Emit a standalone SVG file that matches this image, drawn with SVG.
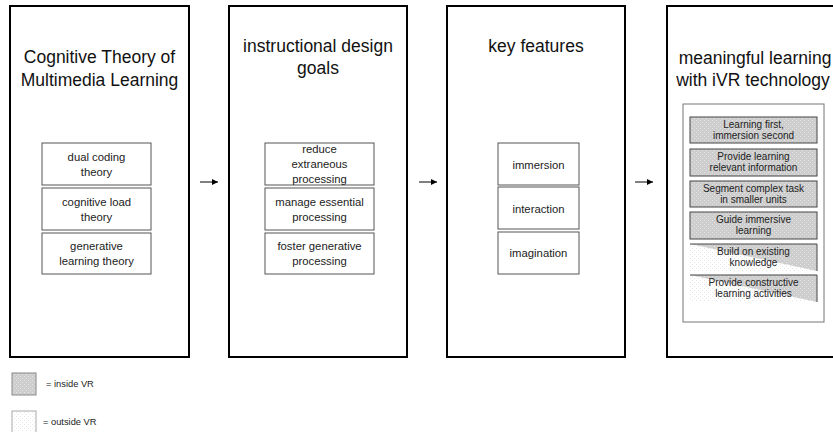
<svg xmlns="http://www.w3.org/2000/svg" width="833" height="432" viewBox="0 0 833 432">
<defs>
<pattern id="pin" width="4" height="4" patternUnits="userSpaceOnUse">
<rect width="4" height="4" fill="#cdcdcd"/>
<rect x="0" y="0" width="1" height="1" fill="#e4e4e4"/>
<rect x="2" y="2" width="1" height="1" fill="#e4e4e4"/>
</pattern>
<pattern id="pout" width="4" height="4" patternUnits="userSpaceOnUse">
<rect width="4" height="4" fill="#ffffff"/>
<rect x="0" y="0" width="1" height="1" fill="#e6e6e6"/>
<rect x="2" y="2" width="1" height="1" fill="#e6e6e6"/>
</pattern>
<marker id="ah" viewBox="0 0 10 10" refX="10" refY="5" markerWidth="6" markerHeight="6" markerUnits="userSpaceOnUse" orient="auto">
<path d="M0,0 L10,5 L0,10 z" fill="#000"/>
</marker>
</defs>
<style>
.col{fill:#fff;stroke:#000;stroke-width:2}
.sub{fill:#fff;stroke:#555;stroke-width:1}
.title{font-family:"Liberation Sans",Arial,sans-serif;font-size:17.5px;fill:#111;text-anchor:middle}
.t{font-family:"Liberation Sans",Arial,sans-serif;font-size:11.3px;fill:#222;text-anchor:middle}
.s{font-family:"Liberation Sans",Arial,sans-serif;font-size:10px;fill:#222;text-anchor:middle}
.leg{font-family:"Liberation Sans",Arial,sans-serif;font-size:9.3px;fill:#222}
.in{fill:url(#pin);stroke:#444;stroke-width:1}
.conn{stroke:#000;stroke-width:1;fill:none}
</style>
<rect width="833" height="432" fill="#fff"/>

<g id="col1">
<rect class="col" x="10" y="6" width="179" height="351"/>
<text class="title" x="99.5" y="63">Cognitive Theory of</text>
<text class="title" x="99.5" y="86">Multimedia Learning</text>
<g id="dual"><rect class="sub" x="42" y="143" width="109" height="42"/>
<text class="t" x="96.5" y="161">dual coding</text><text class="t" x="96.5" y="176">theory</text></g>
<g id="cogload"><rect class="sub" x="42" y="188" width="109" height="42"/>
<text class="t" x="96.5" y="206">cognitive load</text><text class="t" x="96.5" y="221">theory</text></g>
<g id="gen"><rect class="sub" x="42" y="233" width="109" height="41"/>
<text class="t" x="96.5" y="250">generative</text><text class="t" x="96.5" y="265">learning theory</text></g>
</g>

<g id="col2">
<rect class="col" x="229" y="6" width="178" height="351"/>
<text class="title" x="318" y="52">instructional design</text>
<text class="title" x="318" y="74">goals</text>
<g id="reduce"><rect class="sub" x="265" y="143" width="109" height="42"/>
<text class="t" x="319.5" y="153">reduce</text><text class="t" x="319.5" y="168">extraneous</text><text class="t" x="319.5" y="183">processing</text></g>
<g id="manage"><rect class="sub" x="265" y="188" width="109" height="42"/>
<text class="t" x="319.5" y="206">manage essential</text><text class="t" x="319.5" y="221">processing</text></g>
<g id="foster"><rect class="sub" x="265" y="233" width="109" height="41"/>
<text class="t" x="319.5" y="250">foster generative</text><text class="t" x="319.5" y="265">processing</text></g>
</g>

<g id="col3">
<rect class="col" x="447" y="6" width="178" height="351"/>
<text class="title" x="536" y="52">key features</text>
<g id="immersion"><rect class="sub" x="498" y="143" width="81" height="42"/>
<text class="t" x="538.5" y="169">immersion</text></g>
<g id="interaction"><rect class="sub" x="498" y="187" width="81" height="42"/>
<text class="t" x="538.5" y="213">interaction</text></g>
<g id="imagination"><rect class="sub" x="498" y="232" width="81" height="42"/>
<text class="t" x="538.5" y="257">imagination</text></g>
</g>

<g id="col4">
<rect class="col" x="667" y="6" width="178" height="351"/>
<text class="title" x="755" y="64">meaningful learning</text>
<text class="title" x="753" y="86">with iVR technology</text>
<rect x="683" y="104" width="141" height="218" fill="#fff" stroke="#777" stroke-width="1"/>
<g id="i1"><rect class="in" x="690" y="117" width="127" height="26"/>
<text class="s" x="753.5" y="128">Learning first,</text><text class="s" x="753.5" y="139">immersion second</text></g>
<g id="i2"><rect class="in" x="690" y="149" width="127" height="27"/>
<text class="s" x="753.5" y="160">Provide learning</text><text class="s" x="753.5" y="171">relevant information</text></g>
<g id="i3"><rect class="in" x="690" y="181" width="127" height="26"/>
<text class="s" x="753.5" y="192">Segment complex task</text><text class="s" x="753.5" y="203">in smaller units</text></g>
<g id="i4"><rect class="in" x="690" y="212" width="127" height="27"/>
<text class="s" x="753.5" y="223">Guide immersive</text><text class="s" x="753.5" y="234">learning</text></g>
<g id="i5"><rect x="690" y="244" width="127" height="27" fill="url(#pout)"/>
<path d="M690,244 L817,244 L817,271 Z" fill="url(#pin)"/>
<path d="M690,244 L817,244 L817,271" fill="none" stroke="#444" stroke-width="1"/>
<text class="s" x="753.5" y="255">Build on existing</text><text class="s" x="753.5" y="266">knowledge</text></g>
<g id="i6"><rect x="690" y="275" width="127" height="27" fill="url(#pout)"/>
<path d="M690,275 L817,275 L817,302 Z" fill="url(#pin)"/>
<path d="M690,275 L817,275 L817,302" fill="none" stroke="#444" stroke-width="1"/>
<text class="s" x="753.5" y="286">Provide constructive</text><text class="s" x="753.5" y="297">learning activities</text></g>
</g>

<g id="connectors">
<line class="conn" x1="200" y1="182" x2="218" y2="182" marker-end="url(#ah)"/>
<line class="conn" x1="419" y1="182" x2="437" y2="182" marker-end="url(#ah)"/>
<line class="conn" x1="635" y1="182" x2="653" y2="182" marker-end="url(#ah)"/>
</g>

<g id="legend">
<rect x="12" y="373" width="24" height="22" fill="url(#pin)" stroke="#888" stroke-width="1"/>
<text class="leg" x="46" y="387">= inside VR</text>
<rect x="12" y="411" width="24" height="22" fill="url(#pout)" stroke="#aaa" stroke-width="1"/>
<text class="leg" x="43" y="425">= outside VR</text>
</g>
</svg>
